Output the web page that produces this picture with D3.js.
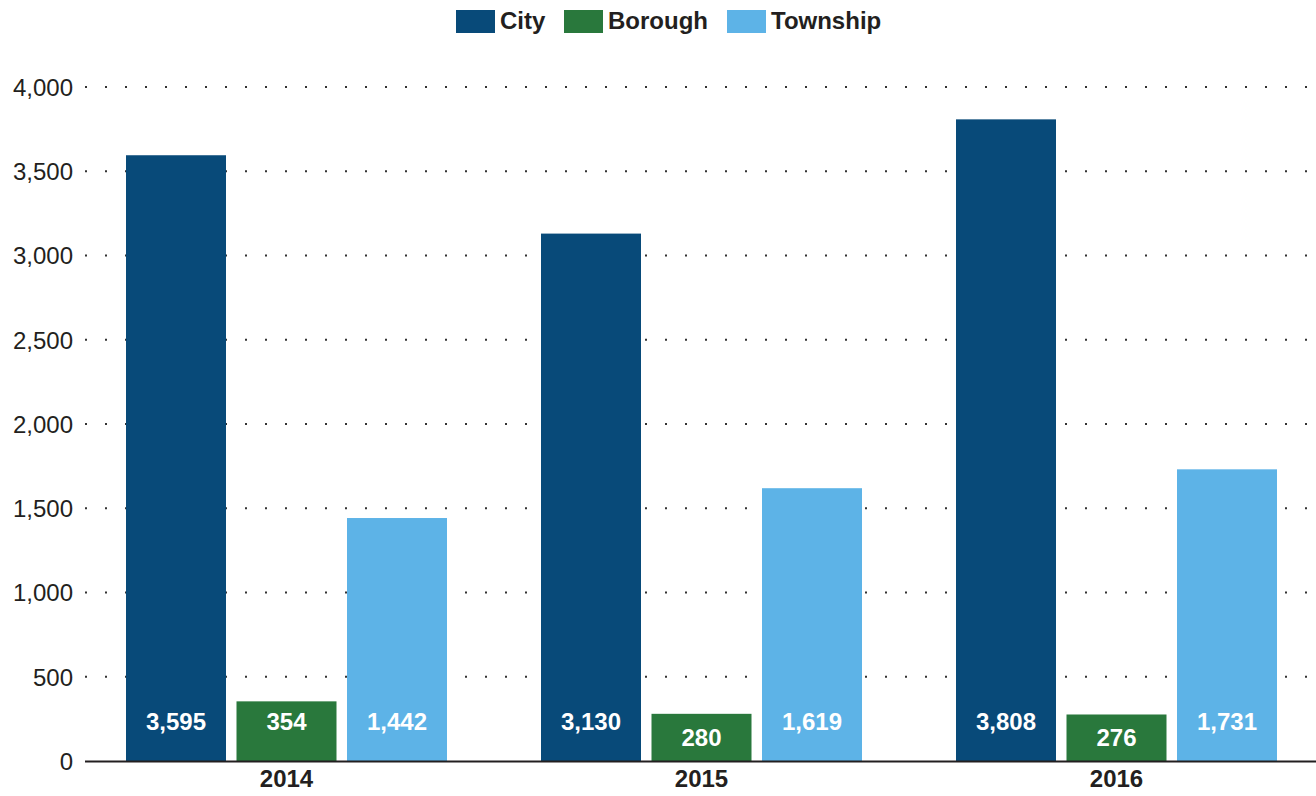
<!DOCTYPE html>
<html>
<head>
<meta charset="utf-8">
<script src="https://cdn.jsdelivr.net/npm/d3@7"></script>
<style>
  html, body { margin: 0; padding: 0; background: #fff; }
  svg { display: block; font-family: "Liberation Sans", Arial, sans-serif; }
</style>
</head>
<body>
<svg id="chart" width="1316" height="796"></svg>
<script>
const categories = ["2014", "2015", "2016"];
const seriesNames = ["City", "Borough", "Township"];
const seriesColors = ["#084a79", "#29783c", "#5db3e7"];
const cityValues = [3595, 3130, 3808];
const boroughValues = [354, 280, 276];
const townshipValues = [1442, 1619, 1731];
const yTicks = [0, 500, 1000, 1500, 2000, 2500, 3000, 3500, 4000];

const seriesValues = [cityValues, boroughValues, townshipValues];
const svg = d3.select("#chart");
const FONT = "Liberation Sans, Arial, sans-serif";

const plotLeft = 85, plotRight = 1316;
const y = d3.scaleLinear().domain([0, 4000]).range([761, 87]);

const x0 = d3.scaleBand().domain(categories).range([79, 1324])
  .paddingInner(94 / 415).paddingOuter(47 / 415);
const x1 = d3.scaleBand().domain(seriesNames).range([0, x0.bandwidth()])
  .paddingInner(0.095).paddingOuter(0);

// gridlines (dotted)
svg.append("g").selectAll("line").data(yTicks.filter(d => d > 0)).join("line")
  .attr("x1", plotLeft).attr("x2", plotRight)
  .attr("y1", d => y(d)).attr("y2", d => y(d))
  .attr("stroke", "#333").attr("stroke-width", 2)
  .attr("stroke-dasharray", "2,18");

// y axis labels
const yAxis = d3.axisLeft(y).tickValues(yTicks).tickSize(0).tickPadding(0)
  .tickFormat(d3.format(","));
const gy = svg.append("g").attr("transform", `translate(${plotLeft - 12},0)`).call(yAxis);
gy.select(".domain").remove();
gy.selectAll("text").attr("font-size", 24).attr("fill", "#231f20")
  .attr("font-family", FONT).attr("dy", "0.35em");

// bars
const groups = svg.append("g").selectAll("g").data(categories).join("g")
  .attr("transform", d => `translate(${x0(d)},0)`);

groups.each(function(cat, ci) {
  const g = d3.select(this);
  seriesNames.forEach((s, si) => {
    const v = seriesValues[si][ci];
    const top = y(v), base = y(0);
    const h = base - top;
    g.append("rect")
      .attr("x", x1(s)).attr("y", top)
      .attr("width", x1.bandwidth()).attr("height", h)
      .attr("fill", seriesColors[si]);
    const ly = h > 55 ? base - 39 : base - h / 2;
    g.append("text")
      .attr("x", x1(s) + x1.bandwidth() / 2).attr("y", ly)
      .attr("dy", "0.35em").attr("text-anchor", "middle")
      .attr("font-size", 24).attr("font-weight", "bold").attr("fill", "#fff")
      .attr("font-family", FONT)
      .text(d3.format(",")(v));
  });
});

// x axis baseline
const xAxis = d3.axisBottom(x0).tickSize(0).tickPadding(0);
const gx = svg.append("g").attr("transform", `translate(0,${y(0)})`).call(xAxis);
gx.select(".domain").remove();
svg.append("line").attr("x1", plotLeft).attr("x2", plotRight)
  .attr("y1", y(0) + 0.5).attr("y2", y(0) + 0.5)
  .attr("stroke", "#231f20").attr("stroke-width", 2);
gx.selectAll("text").attr("font-size", 24).attr("font-weight", "bold")
  .attr("fill", "#231f20").attr("font-family", FONT)
  .attr("dy", null).attr("y", 26);

// legend
const legendItems = [
  { name: "City", x: 456 },
  { name: "Borough", x: 564 },
  { name: "Township", x: 727 }
];
const lg = svg.append("g");
legendItems.forEach((it, i) => {
  lg.append("rect").attr("x", it.x).attr("y", 10).attr("width", 39).attr("height", 23)
    .attr("fill", seriesColors[i]);
  lg.append("text").attr("x", it.x + 44).attr("y", 21).attr("dy", "0.35em")
    .attr("font-size", 24).attr("font-weight", "bold").attr("fill", "#231f20")
    .attr("font-family", FONT)
    .text(it.name);
});
</script>
</body>
</html>
